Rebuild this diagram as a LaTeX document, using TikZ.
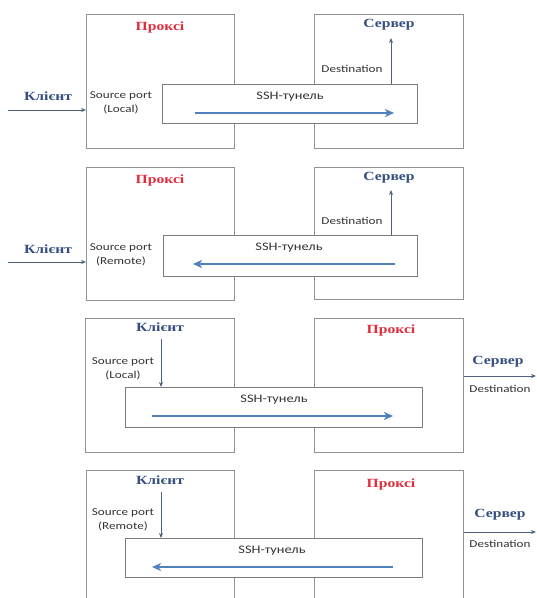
\documentclass[tikz,border=0pt]{standalone}
\usepackage{fontspec}
\setmainfont{Carlito}
\newfontfamily\hostfont{Liberation Serif}[FakeStretch=1.25]
\newfontfamily\notefont{Carlito}[FakeStretch=1.25]
\usetikzlibrary{arrows.meta,calc}

\definecolor{hostblue}{RGB}{52,78,128}
\definecolor{proxyred}{RGB}{222,45,60}
\definecolor{framegray}{RGB}{145,145,145}
\definecolor{tunnelblue}{RGB}{79,129,189}
\definecolor{thinarrow}{RGB}{80,96,130}

\tikzset{
  host/.style={draw=framegray, line width=1.3pt, fill=white, anchor=north west, inner sep=0pt},
  tunnelbox/.style={draw=framegray!85!black, line width=1.3pt, fill=white, anchor=north west, inner sep=0pt},
  hostlabel/.style={font=\hostfont\bfseries\fontsize{12.5}{14}\selectfont, text=hostblue, inner sep=0pt},
  proxylabel/.style={hostlabel, text=proxyred},
  note/.style={font=\notefont\fontsize{10.5}{13.5}\selectfont, text=black!80, inner sep=0pt, align=center},
  tunnellabel/.style={note, font=\notefont\fontsize{11.5}{13.5}\selectfont},
  flow/.style={draw=tunnelblue, line width=2.2pt, -{Stealth[length=9pt,width=8pt,inset=2.5pt]}},
  feed/.style={draw=thinarrow, line width=0.8pt, -{Stealth[length=5pt,width=4pt]}},
}

\begin{document}
\begin{tikzpicture}[x=1pt,y=-1pt]
\clip (0,0) rectangle (537,598);
\fill[white] (0,0) rectangle (537,598);

% ---------- 1: local forwarding, client outside the proxy ----------
\node[host, minimum width=148pt, minimum height=134pt] (px1) at (86,14) {};
\node[host, minimum width=149pt, minimum height=134pt] (sv1) at (314,14) {};
\node[tunnelbox, minimum width=255pt, minimum height=39pt] (tn1) at (162,84) {};
\node[proxylabel] (pl1) at (160,27) {Проксі};
\node[hostlabel] (sl1) at (389,25) {Сервер};
\node[hostlabel] (kl1) at (48,96) {Клієнт};
\node[note] (sp1) at (121,103) {Source port\\(Local)};
\node[note] (ds1) at (352,69) {Destination};
\node[tunnellabel] (ss1) at (290,97) {SSH-тунель};
\coordinate (in1) at (8,110);
\draw[feed] (in1) -- (in1 -| px1.west);
\coordinate (up1) at (391,38);
\draw[feed] (up1 |- tn1.north) -- (up1);
\coordinate (f1a) at (195,113);
\coordinate (f1b) at (394,113);
\draw[flow] (f1a) -- (f1b);

% ---------- 2: remote forwarding, client outside the proxy ----------
\node[host, minimum width=148pt, minimum height=133pt] (px2) at (86,167) {};
\node[host, minimum width=149pt, minimum height=132pt] (sv2) at (314,167) {};
\node[tunnelbox, minimum width=254pt, minimum height=41pt] (tn2) at (163,235) {};
\node[proxylabel] (pl2) at (160,180) {Проксі};
\node[hostlabel] (sl2) at (389,178) {Сервер};
\node[hostlabel] (kl2) at (48,249) {Клієнт};
\node[note] (sp2) at (121,255) {Source port\\(Remote)};
\node[note] (ds2) at (352,221) {Destination};
\node[tunnellabel] (ss2) at (289,248) {SSH-тунель};
\coordinate (in2) at (8,262);
\draw[feed] (in2) -- (in2 -| px2.west);
\coordinate (up2) at (391,190);
\draw[feed] (up2 |- tn2.north) -- (up2);
\coordinate (f2a) at (395,264);
\coordinate (f2b) at (193,264);
\draw[flow] (f2a) -- (f2b);

% ---------- 3: local forwarding, client is the source host ----------
\node[host, minimum width=149pt, minimum height=134pt] (kb3) at (85,318) {};
\node[host, minimum width=149pt, minimum height=134pt] (px3) at (314,318) {};
\node[tunnelbox, minimum width=297pt, minimum height=40pt] (tn3) at (125,387) {};
\node[hostlabel] (kl3) at (160,327) {Клієнт};
\node[proxylabel] (pl3) at (391,330) {Проксі};
\node[hostlabel] (sl3) at (498,362) {Сервер};
\node[note] (sp3) at (123,369) {Source port\\(Local)};
\node[note] (ds3) at (500,389) {Destination};
\node[tunnellabel] (ss3) at (274,400) {SSH-тунель};
\coordinate (dn3) at (161,339);
\draw[feed] (dn3) -- (dn3 |- tn3.north);
\coordinate (out3) at (536,376);
\draw[feed] (out3 -| px3.east) -- (out3);
\coordinate (f3a) at (152,416);
\coordinate (f3b) at (393,416);
\draw[flow] (f3a) -- (f3b);

% ---------- 4: remote forwarding, client is the source host ----------
\node[host, minimum width=148pt, minimum height=160pt] (kb4) at (86,470) {};
\node[host, minimum width=149pt, minimum height=160pt] (px4) at (314,470) {};
\node[tunnelbox, minimum width=297pt, minimum height=39pt] (tn4) at (125,538) {};
\node[hostlabel] (kl4) at (160,480) {Клієнт};
\node[proxylabel] (pl4) at (391,484) {Проксі};
\node[hostlabel] (sl4) at (500,515) {Сервер};
\node[note] (sp4) at (123,520) {Source port\\(Remote)};
\node[note] (ds4) at (500,544) {Destination};
\node[tunnellabel] (ss4) at (272,551) {SSH-тунель};
\coordinate (dn4) at (161,492);
\draw[feed] (dn4) -- (dn4 |- tn4.north);
\coordinate (out4) at (536,532);
\draw[feed] (out4 -| px4.east) -- (out4);
\coordinate (f4a) at (393,567);
\coordinate (f4b) at (152,567);
\draw[flow] (f4a) -- (f4b);
\end{tikzpicture}
\end{document}
